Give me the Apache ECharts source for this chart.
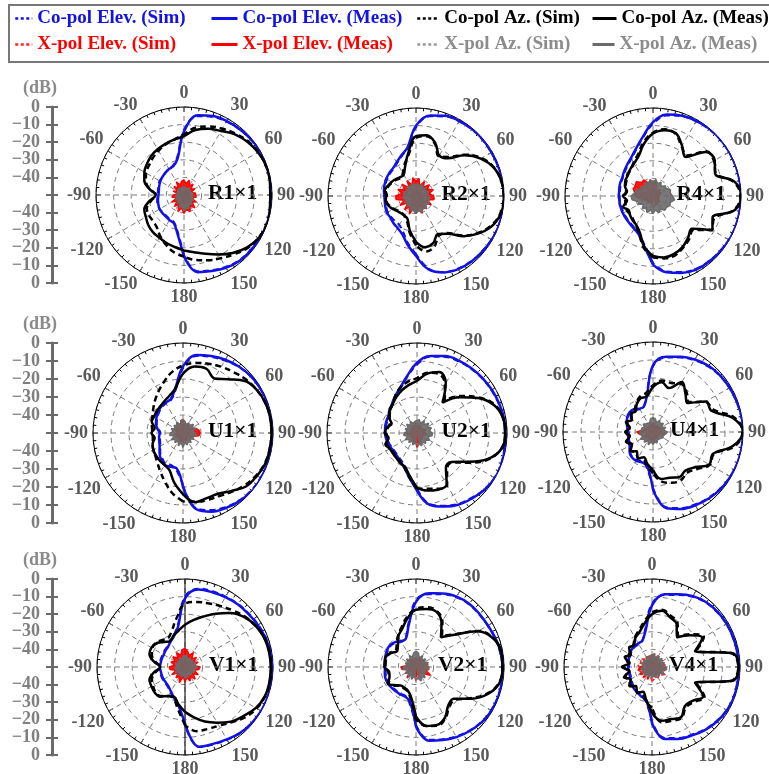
<!DOCTYPE html>
<html><head><meta charset="utf-8">
<script src="https://cdn.jsdelivr.net/npm/echarts/dist/echarts.min.js"></script>
<style>html,body{margin:0;padding:0;background:#fff}#c{width:769px;height:774px}</style>
</head><body><div id="c"></div>
<script>
// ---------- DATA ----------
const angles = [-180,-170,-160,-150,-140,-130,-120,-110,-100, -90,-80,-70,-60,-50,-40,-30,-20,-10, 0, 10,20,30,40,50,60,70,80,90, 100,110,120,130,140,150,160,170,180];
const dbTickLabels = ['0','−10','−20','−30','−40','','−40','−30','−20','−10','0'];
const seriesNames = ['Co-pol Elev. (Sim)','Co-pol Elev. (Meas)','Co-pol Az. (Sim)','Co-pol Az. (Meas)','X-pol Elev. (Sim)','X-pol Elev. (Meas)','X-pol Az. (Sim)','X-pol Az. (Meas)'];
const plotNames = ['R1×1','R2×1','R4×1','U1×1','U2×1','U4×1','V1×1','V2×1','V4×1'];

// R1
const R1_coElevSim  = [-16,-29,-33.5,-34,-34.5,-34.5,-34,-34,-34.5, -35,-35,-34.5,-34,-34,-33.5,-33,-32,-28, -13, -4.5,-2.8,-1.8,-1.2,-0.6,-0.2,0,0,0, 0,0,-0.5,-1,-1.5,-2.8,-4.5,-6,-16];
const R1_coElevMeas = [-15,-28,-33,-33.5,-34,-34,-34,-34.5,-35, -35.5,-35.5,-35,-34.5,-34,-33.5,-33,-32.5,-29, -14, -4,-2.3,-1.5,-1,-0.5,0,0,0,0, 0,0,-0.3,-0.7,-1.1,-2.3,-4,-5.5,-15];
const R1_coAzSim    = [-15,-17,-20,-23,-26,-27,-27,-27.5,-31, -34,-30,-27,-25,-24,-22.5,-21,-19.5,-18, -15.5, -11,-8.5,-6.5,-4.5,-2.5,-1.2,-0.5,-0.5,-0.8, -0.5,-0.3,-1.2,-3,-6,-8.5,-10.5,-12.5,-15];
const R1_coAzMeas   = [-18.5,-20,-21,-22,-22.5,-23.5,-25,-26,-30, -34,-30,-26,-24,-22.5,-21,-20,-19,-18, -16.5, -12.5,-10,-8,-5,-3,-1.5,-0.5,-0.5,-1, -0.5,0,-1,-3.5,-7,-11,-14.5,-17,-18.5];
const R1_xElevSim   = [-44,-45,-44.5,-46,-45.5,-46.5,-46,-46.5,-46, -47,-46.5,-47,-46,-46.5,-45.5,-46,-45,-45.5, -45, -45.5,-45,-46,-45.5,-46.5,-46,-47,-46.5,-47, -46.5,-46,-45.5,-45,-45.5,-44.5,-45,-44,-44];
const R1_xElevMeas  = [-39.5,-42.5,-40,-44,-41.5,-45,-42,-46,-43, -44,-46.5,-43.5,-46,-42.5,-45,-41.5,-44,-42, -41.5, -43.5,-41,-44,-42,-45,-43,-46,-43.5,-44.5, -43,-45.5,-42,-44,-40.5,-43,-40,-42,-39.5];
const R1_xAzSim     = [-43,-44.5,-45,-46,-46.5,-47,-46.5,-47,-46.5, -46,-46.5,-47,-46.5,-47,-47.5,-47,-46.5,-46, -46.5, -46,-45.5,-46.5,-46,-45.5,-46,-45.5,-46.5,-46, -45.5,-46,-45.5,-45,-44.5,-44,-44,-43.5,-43];
const R1_xAzMeas    = [-41,-43.5,-42.5,-45,-44,-46,-44.5,-46,-45, -45.5,-46,-45,-46.5,-45.5,-46,-45.5,-46.5,-45.5, -45, -45.5,-44.5,-46,-45,-46,-45.5,-46,-45,-46, -45,-45.5,-44,-45,-43,-44,-42,-42.5,-41];
// R2
const R2_coElevSim  = [-17,-23,-28.5,-31,-31.5,-31.5,-31.5,-32,-32.5, -32.5,-32,-31.5,-31,-30.5,-30,-28.5,-26,-22.5, -11, -4,-2,-1,-0.6,-0.5,-0.6,-0.4,-0.2,0, 0,-0.2,-0.5,-1,-1.5,-2.3,-4,-8,-17];
const R2_coElevMeas = [-16,-22,-27,-29,-30,-31,-31,-31.5,-32, -32,-31.5,-31,-30.5,-30,-29.5,-28,-25.5,-22, -10, -3.5,-1.5,-0.8,-0.4,-0.3,-0.5,-0.3,0,0, 0,0,-0.3,-0.8,-1.2,-2,-3.8,-7.5,-16];
const R2_coAzSim    = [-22,-29,-35,-37,-37.5,-37,-35.5,-34,-33, -33.5,-32.5,-33.5,-34.5,-35.5,-36.5,-35,-31,-26, -17, -15.5,-18.5,-24,-21,-13.5,-7,-2.8,-0.8,-0.2, -0.8,-3.5,-8.5,-15,-22.5,-24,-19.5,-18,-22];
const R2_coAzMeas   = [-24,-30,-36,-37,-37,-36.5,-35,-33.5,-32.5, -33,-32,-33,-34,-35,-36,-36,-32,-25, -16, -15,-18,-23.5,-22,-14,-7.5,-3,-0.8,0, -0.5,-3,-8,-14.5,-22,-25,-21.5,-20.5,-24];
const R2_xElevSim   = [-43,-44.5,-43,-45,-44,-45.5,-43.5,-44.5,-43, -42.5,-44,-43,-44.5,-43.5,-45,-44,-45,-43.5, -44.5, -43.5,-45,-44,-45,-43.5,-44.5,-43,-44,-43.5, -43,-44.5,-43.5,-45,-44,-45,-43,-44.5,-43];
const R2_xElevMeas  = [-40,-43.5,-39,-43,-40,-44,-39.5,-43,-38.5, -38.5,-42,-39,-43,-39.5,-44,-40,-43.5,-39.5, -41.5, -40,-44,-40.5,-43.5,-40,-43,-39.5,-42.5,-40, -39.5,-43,-40,-44,-40.5,-43.5,-39.5,-43,-40];
const R2_xAzSim     = [-42.5,-43.5,-44,-44.5,-45,-45.5,-44.5,-45.5,-44.5, -45,-45.5,-45,-46,-45.5,-45,-45.5,-44.5,-45, -44.5, -45,-45.5,-44.5,-45.5,-45,-45.5,-44.5,-45,-44.5, -44,-44.5,-43.5,-44,-43,-43.5,-42.5,-43,-42.5];
const R2_xAzMeas    = [-40,-41.5,-41.5,-43,-42.5,-44,-42.5,-44,-42.5, -43,-44,-43,-44.5,-43.5,-43,-44,-42.5,-43.5, -42.5, -43,-44,-42.5,-44,-43,-44,-42.5,-43.5,-42.5, -42,-43,-41.5,-42.5,-41,-42,-40.5,-41.5,-40];
// R4
const R4_coElevSim  = [-12,-22,-27,-29,-30,-30.5,-30.8,-31,-31, -31,-31,-30.5,-30,-29,-27.5,-25.5,-22,-16.5, -9, -3.5,-1.8,-1,-0.5,-0.2,0,0,0,0, 0,0,-0.3,-0.8,-1.3,-2,-4,-6.5,-12];
const R4_coElevMeas = [-11,-21,-26.5,-28.5,-29.5,-30,-30.3,-30.5,-30.7, -30.7,-30.5,-30,-29.7,-28.5,-27,-25,-21.5,-16, -8, -3,-1.5,-0.7,-0.2,0,0,0,0,0, 0,0,0,-0.5,-1,-1.5,-3.5,-6,-11];
const R4_coAzSim    = [-15,-20,-27,-30.5,-32.5,-33.5,-33,-33.5,-34, -34,-34.5,-33.5,-32.5,-31,-30.5,-28,-25,-19, -14, -11.5,-12.5,-17.5,-20,-10.5,-10,-12,-3.5,-0.3, -3.5,-13,-11.5,-20,-18,-16,-14,-14,-15];
const R4_coAzMeas   = [-16,-21,-28,-31,-32,-33,-34,-32,-35, -33,-35,-33,-32,-31.5,-30,-28.5,-26,-20, -14.5, -12,-12,-17,-21,-11,-9.5,-12.5,-3,0, -3,-14,-11,-21,-19,-16.5,-15,-14.5,-16];
const R4_xElevSim   = [-46,-46.5,-46,-47,-46.5,-47,-46.5,-46,-45, -44,-43,-42.5,-42,-43,-43.5,-44,-45,-45.5, -45, -44.5,-45.5,-46,-46.5,-46,-47,-46.5,-47,-46.5, -47,-46.5,-47,-46.5,-47,-46,-46.5,-46,-46];
const R4_xElevMeas  = [-44,-45.5,-44.5,-46,-45,-46.5,-45,-44,-42, -40,-39.5,-38,-38.5,-37.5,-40,-39.5,-42,-41.5, -43, -41,-44,-44,-46,-44.5,-46,-45,-46.5,-45.5, -46.5,-45.5,-46.5,-45,-46,-44.5,-45.5,-44,-44];
const R4_xAzSim     = [-43,-44,-43.5,-44.5,-44,-45,-44,-43,-42, -41.5,-42,-43,-44,-44.5,-45,-44.5,-44.5,-44, -44.5, -44,-45,-44.5,-45,-44.5,-43.5,-43,-42,-42.5, -41.5,-42,-42.5,-42,-43,-43.5,-43.5,-44,-43];
const R4_xAzMeas    = [-40,-42,-40,-42.5,-40.5,-43,-40.5,-41,-38, -37.5,-39.5,-40,-42,-41.5,-43,-41,-42.5,-40.5, -42, -40.5,-42.5,-41,-43,-41,-41.5,-39.5,-40,-39, -37.5,-39.5,-39,-40,-39.5,-41.5,-40,-42,-40];
// U1
const U1_coElevSim  = [-21,-29,-31,-30.5,-32,-33.5,-35.5,-36.5,-37, -37.5,-36,-34.5,-33.5,-32.5,-31.5,-31,-30.5,-26, -14, -6.5,-5,-3.5,-2,-1,-0.5,-0.3,-0.2,0, 0,0,-0.2,-0.5,-1.2,-2.5,-4.5,-7.5,-21];
const U1_coElevMeas = [-20,-30,-30,-29.5,-31,-33,-35,-36,-36.5, -37,-35.5,-34,-33,-32,-31,-30.5,-30,-25, -13, -6,-4.5,-3,-1.8,-0.8,-0.4,-0.2,0,0, 0,0,0,0,-0.8,-2,-3.5,-7,-20];
const U1_coAzSim    = [-12,-16,-21,-25,-28,-30,-31,-32,-33, -33,-32.5,-31.5,-30.5,-28.5,-26,-23,-19.5,-15.5, -12.5, -10.5,-9,-7.5,-6,-4,-2.5,-1.3,-0.8,-0.8, -1,-1.5,-3,-5,-7.5,-9.5,-10.5,-11.2,-12];
const U1_coAzMeas   = [-16,-22,-28,-29.5,-30,-30.5,-31,-32,-34, -32.5,-34,-31.5,-31.5,-31,-30.5,-29.5,-28,-25, -17, -12.5,-12,-15,-11,-5,-2.5,-1.3,-0.8,-0.8, -1,-1.2,-2.5,-4,-8,-11,-11.5,-11,-16];
const U1_xElevSim   = [-46,-46.5,-46,-47,-46.5,-47,-46.5,-46,-46.5, -46,-46.5,-46,-47,-46,-46.5,-46,-45.5,-45, -45, -45,-45.5,-46,-46,-45.5,-45,-44.5,-43.5,-43, -43.5,-45,-46,-46.5,-46.5,-46,-46.5,-46,-46];
const U1_xElevMeas  = [-44,-46.5,-44.5,-47,-45,-47,-45.5,-46.5,-45, -44,-46.5,-44.5,-47,-44.5,-46.5,-44,-46,-43, -42.5, -44,-45.5,-44,-46,-44,-45.5,-42.5,-41,-40.5, -41,-44.5,-44,-46,-45,-46.5,-45,-46.5,-44];
const U1_xAzSim     = [-44,-45,-44.5,-46,-45,-45.5,-44.5,-45.5,-44.5, -45,-44,-45,-44.5,-45.5,-45,-46,-45,-45.5, -44.5, -45,-44.5,-45.5,-45,-44.5,-45,-44.5,-45.5,-45, -44.5,-45.5,-45,-46,-45,-44.5,-45,-44,-44];
const U1_xAzMeas    = [-42,-44.5,-42.5,-45,-43,-44.5,-42.5,-45,-42.5, -43,-44.5,-43,-45,-43.5,-44.5,-43,-45,-43.5, -42.5, -43.5,-45,-43.5,-44.5,-42.5,-44,-42.5,-44.5,-43, -42.5,-44.5,-43,-45,-43,-44.5,-43,-44.5,-42];
// U2
const U2_coElevSim  = [-19,-26,-30.5,-32.5,-33.5,-34,-34,-33.5,-33, -32.8,-32.5,-32.3,-32,-31,-29,-26.5,-23.5,-18.5, -12, -7,-5,-4,-3.3,-2.8,-2.3,-1.8,-1.3,-1.2, -0.8,-0.3,-0.3,-1.3,-3,-4.5,-7,-10,-19];
const U2_coElevMeas = [-18,-25,-29.5,-31.5,-33,-33.5,-33.5,-33,-32.5, -32.3,-32,-31.8,-31.5,-30.5,-28.5,-26,-23,-18, -11, -6.5,-4.5,-3.5,-3,-2.5,-2,-1.5,-1,-1, -0.5,0,0,-1,-2.5,-4,-6.5,-9.5,-18];
const U2_coAzSim    = [-19,-25,-29.5,-31.5,-32.5,-33,-33,-32,-33.5, -33,-33.5,-34,-32.5,-30.5,-29,-26,-23,-21, -19.5, -16,-15,-19,-26,-18,-10.5,-4,-1.5,-1, -2.2,-7.5,-17,-24.5,-24,-16.5,-17,-18.5,-19];
const U2_coAzMeas   = [-19.5,-26,-30,-31,-32,-32.5,-32.5,-31.3,-34, -32,-33,-35,-32,-30,-29,-27,-25,-23, -21, -16.5,-14,-18,-28,-19,-11,-4.5,-1.5,-1, -2,-8,-18,-25,-25,-17,-16.5,-17.5,-19.5];
const U2_xElevSim   = [-45,-46,-46.5,-47,-46.5,-47.5,-47,-47.5,-46.5, -46,-47,-46.5,-47.5,-47,-47.5,-46.5,-47,-46, -46, -46.5,-47,-47.5,-47,-47.5,-46.5,-46,-46.5,-47, -46.5,-47.5,-47,-46.5,-47,-46,-45.5,-45,-45];
const U2_xElevMeas  = [-42,-45.5,-44,-46.5,-45,-47,-45.5,-47,-45, -43.5,-46,-45,-47,-45.5,-47,-45,-46.5,-44, -43, -45,-46.5,-45,-47,-46,-46.5,-44.5,-46,-45.5, -44,-46.5,-45.5,-46,-45.5,-45,-43,-44,-42];
const U2_xAzSim     = [-44,-45,-44,-45.5,-44.5,-45,-44,-45,-44, -44.5,-45.5,-44.5,-45,-44,-45,-44.5,-45.5,-45, -44.5, -44,-45,-44,-44.5,-43.5,-44,-43,-43.5,-43.5, -43,-44,-43.5,-45,-44,-45,-44,-44.5,-44];
const U2_xAzMeas    = [-43,-44.5,-43,-45,-43,-44.5,-42.5,-44.5,-42.5, -43,-44.5,-43,-44.5,-42.5,-44.5,-42.5,-44.5,-43.5, -43, -42.5,-44.5,-42,-44,-41.5,-43.5,-41.5,-43,-41.5, -41.5,-43.5,-42,-44,-42.5,-44,-42.5,-44,-43];
// U4
const U4_coElevSim  = [-19,-30,-32.5,-32,-32,-33.5,-35.5,-36,-36.5, -36.5,-36,-35,-34,-33.5,-34,-35.5,-35,-29, -13.5, -8,-6,-4,-2.5,-1.5,-1,-0.7,-0.3,0, 0,0,-0.5,-1.2,-2.2,-3.5,-5,-7.5,-19];
const U4_coElevMeas = [-18,-31,-32,-31.5,-31.7,-33,-35,-35.8,-36, -36,-35.5,-34.5,-33.5,-33,-33.5,-35,-35,-30, -13, -7.5,-5.5,-3.5,-2,-1.2,-0.8,-0.5,0,0, 0,0,-0.3,-0.8,-1.8,-3,-4.5,-7,-18];
const U4_coAzSim    = [-27,-31,-34,-33.5,-35,-34,-35.5,-34.5,-36, -35,-36,-34.5,-36,-34.5,-34,-31.5,-29,-28, -24, -21,-21,-19,-21,-24,-16.5,-14,-4,-0.3, -4,-14,-13.5,-18,-20.5,-19,-20,-22,-27];
const U4_coAzMeas   = [-29,-32,-35,-33,-36,-33.5,-36.5,-34,-37, -34.5,-37,-34,-36.5,-34,-35,-32,-30,-30, -25, -22,-24,-18,-22,-25,-16,-15.5,-5,0, -5,-14.5,-14,-19.5,-22,-21,-23,-23.5,-29];
const U4_xElevSim   = [-46,-46.5,-46,-47,-46.5,-47,-46,-45.5,-45, -44,-45,-46,-46.5,-47,-46.5,-47,-47,-46.5, -47, -46.5,-47,-47,-47.5,-46.5,-47,-46.5,-46,-45.5, -45,-46,-46.5,-47,-47,-46.5,-47,-46.5,-46];
const U4_xElevMeas  = [-44,-46.5,-44.5,-47,-44.5,-46.5,-44,-45,-42.5, -41,-44,-44.5,-46.5,-45.5,-47,-46,-47,-45, -46, -45,-47,-45.5,-47,-45,-46.5,-44.5,-45.5,-43.5, -43,-45,-44.5,-46.5,-45.5,-47,-45.5,-46.5,-44];
const U4_xAzSim     = [-45,-45.5,-44.5,-45.5,-44.5,-45,-44,-45,-44.5, -45,-44,-45.5,-44.5,-45,-44.5,-45.5,-45,-44.5, -44, -44.5,-45.5,-44.5,-45,-44.5,-45.5,-44.5,-45,-44, -45,-44.5,-45.5,-45,-46,-45,-45.5,-45,-45];
const U4_xAzMeas    = [-43,-44.5,-42.5,-44.5,-42.5,-44,-42,-44,-42.5, -43,-44,-43.5,-44.5,-43,-44,-43.5,-44.5,-42.5, -42, -42.5,-44.5,-42.5,-44,-42.5,-44.5,-42.5,-44,-42, -43,-44,-43.5,-44.5,-44,-45,-43.5,-44.5,-43];
// V1
const V1_coElevSim  = [-17,-27,-31,-33.5,-35,-35.5,-35.5,-35.5,-35.5, -35.5,-35.5,-35.5,-35.5,-35,-34.5,-33,-31,-26, -10, -4.8,-4.2,-3.8,-3.2,-2.7,-2,-1.2,-0.6,-0.3, 0,0,0,-0.3,-1,-2.2,-3.2,-3.8,-17];
const V1_coElevMeas = [-18,-28,-31.5,-34,-35.5,-36,-36,-36,-36, -35.7,-36,-36,-36,-35.5,-35,-33.5,-31.5,-27, -11, -5.3,-4.8,-4.2,-3.5,-3,-2.2,-1.4,-0.8,-0.4, -0.2,0,0,-0.5,-1.2,-2.5,-3.5,-4,-18];
const V1_coAzSim    = [-17,-26,-31,-31,-28.5,-28,-29,-30,-33, -36,-33,-30,-28.5,-28.5,-30,-31,-28,-22, -14, -12.5,-11.5,-10,-8,-5.5,-3.5,-2,-1.2,-1, -1,-1.5,-3,-5.5,-9,-11.5,-12.5,-13,-17];
const V1_coAzMeas   = [-24.5,-28.5,-32,-31,-28,-27.5,-28,-28.5,-32, -36,-32,-28.5,-28,-29,-31.5,-33,-31,-29, -26, -23,-19.5,-15,-10,-6,-3.5,-2,-1.5,-1.3, -1.3,-1.7,-3.5,-6.7,-9.5,-13.5,-17,-21,-24.5];
const V1_xElevSim   = [-45,-46,-44.5,-45.5,-45,-46.5,-45,-46,-45, -44.5,-45.5,-45,-44.5,-45,-44.5,-44,-44.5,-43.5, -43, -44,-43.5,-45,-44.5,-45.5,-45,-46,-45.5,-45, -46,-45,-46,-44.5,-45.5,-45,-46,-45,-45];
const V1_xElevMeas  = [-41.5,-44.5,-40.5,-44,-42,-45,-41.5,-44.5,-41.5, -41,-44,-41.5,-43.5,-41,-43.5,-40.5,-43,-40, -39.5, -41,-43,-40.5,-44,-41.5,-44.5,-42,-45,-41.5, -42,-44.5,-41.5,-44,-41,-44,-41.5,-44,-41.5];
const V1_xAzSim     = [-45,-46,-45.5,-46.5,-45.5,-46,-45,-46,-45.5, -45,-46,-45.5,-46.5,-46,-46.5,-45.5,-46,-45, -45.5, -45,-46,-45.5,-46.5,-45.5,-46,-45,-45.5,-44.5, -45,-44.5,-45.5,-45,-46,-45.5,-46,-45,-45];
const V1_xAzMeas    = [-43.5,-45.5,-44,-46,-44,-45.5,-43.5,-45.5,-44, -43.5,-45.5,-44,-46,-44.5,-46,-44,-45.5,-43.5, -44, -43.5,-45.5,-44,-46,-44,-45.5,-43.5,-45,-43, -43.5,-45,-44,-45.5,-44.5,-45.5,-44.5,-45.5,-43.5];
// V2
const V2_coElevSim  = [-17,-29,-32.5,-32.5,-32.5,-32.3,-32,-32,-32.5, -32.8,-32.5,-32,-31.5,-31.2,-32,-33.5,-32.5,-25, -12, -8,-6,-4.2,-3.4,-3.3,-3,-2.3,-1.5,-1, -0.7,-0.5,-0.8,-1.5,-2.8,-4.5,-6.3,-8,-17];
const V2_coElevMeas = [-16,-30,-32,-32,-32,-31.8,-31.5,-31.5,-32, -32.4,-32,-31.5,-31,-30.7,-31.5,-33,-33,-26, -13, -7.5,-5.5,-3.8,-3,-3,-2.8,-2,-1.2,-0.8, -0.5,-0.3,-0.5,-1.2,-2.5,-4,-5.8,-7.5,-16];
const V2_coAzSim    = [-20,-32,-35.5,-36,-36,-33.5,-32,-33.5,-34, -32.5,-32.5,-32.5,-33.5,-35,-33,-29.5,-26,-21, -17, -15.5,-16,-20,-27,-21,-9,-3,-1,-1, -1.8,-6.5,-14.5,-21,-20.5,-16.5,-14.5,-16,-20];
const V2_coAzMeas   = [-22,-33,-36,-36.5,-36.3,-34,-31.5,-34,-34.5, -32,-32,-32,-34,-36,-34,-30,-27,-22, -17.5, -16.5,-16.5,-21,-28,-21.5,-9.5,-3,-0.8,-0.8, -1.5,-6,-14,-22,-21.5,-17,-15,-16,-22];
const V2_xElevSim   = [-42,-45,-44,-46,-43,-45.5,-44,-46,-43, -42,-44.5,-45.5,-43.5,-46,-46.5,-45,-47,-45.5, -46, -45.5,-46.5,-44.5,-45.5,-44,-46,-44,-43,-44.5, -43,-42,-41.5,-44,-45,-46,-45,-46,-42];
const V2_xElevMeas  = [-44,-46.5,-43,-45.5,-42,-45,-43,-46,-42, -41.5,-45,-44,-46,-44.5,-46.5,-44,-47,-44.5, -46, -44.5,-46.5,-43.5,-45.5,-43,-46,-43,-44,-43.5, -42.5,-44,-40.5,-44,-44,-46.5,-44,-46.5,-44];
const V2_xAzSim     = [-45,-45.5,-44.5,-46,-45,-46,-45,-45.5,-44.5, -45,-46,-45.5,-46,-45,-45.5,-44.5,-43.5,-44, -43, -44,-45,-44.5,-45.5,-45,-45.5,-44.5,-45,-44.5, -45,-44.5,-45.5,-45,-44,-44.5,-43.5,-44,-45];
const V2_xAzMeas    = [-43,-45,-42.5,-45,-43,-45,-43,-45,-42.5, -43,-45,-43.5,-45.5,-43,-45,-42.5,-44,-42, -41, -42,-44.5,-42.5,-45,-43,-45,-42.5,-44.5,-42.5, -43,-44.5,-43.5,-44.5,-42,-44,-41.5,-43.5,-43];
// V4
const V4_coElevSim  = [-19,-30,-32.5,-33.5,-34.5,-35.5,-36.5,-37,-37, -37,-37,-36.5,-36,-35.3,-35,-35,-34,-28, -14, -8.5,-6.5,-4,-2.3,-1.6,-1.2,-1.1,-1,-1, -0.8,-0.6,-1,-2.2,-3.6,-5.5,-7,-9,-19];
const V4_coElevMeas = [-18,-31,-32.2,-33.3,-34,-35,-36,-36.5,-36.5, -36.5,-36.5,-36,-35.5,-34.8,-34.5,-34.5,-34,-29, -15, -8,-6,-3.5,-2,-1.3,-1,-0.9,-0.8,-0.8, -0.6,-0.4,-0.8,-1.8,-3.2,-5,-6.5,-8.5,-18];
const V4_coAzSim    = [-27,-30,-34,-33.5,-35,-34,-35,-34,-36, -34,-36,-34,-35,-34,-33.5,-30.5,-28,-24, -19, -17,-19,-21,-27,-21,-16,-23,-4.5,-1, -4.5,-23,-15.5,-19,-20,-16.5,-17.5,-18,-27];
const V4_coAzMeas   = [-24,-31,-35,-33,-36,-33,-36,-33,-37, -33,-37,-33.5,-36,-33,-34,-31,-29,-25, -20, -17.5,-20,-22,-28,-22,-17,-24,-4,-0.8, -4,-24,-16.5,-20,-21,-17,-18.5,-19,-24];
const V4_xElevSim   = [-42,-44.5,-42.5,-44.5,-42,-43.5,-41.5,-43,-41.5, -43,-41.5,-43.5,-42,-43,-44,-43,-44,-43, -43.5, -42.5,-42,-43.5,-42.5,-44,-43,-44,-42.5,-43, -42,-43,-41.5,-43,-44,-43,-44,-43,-42];
const V4_xElevMeas  = [-44,-46.5,-43,-46,-42.5,-45.5,-42,-45,-42, -43.5,-45,-44,-45.5,-43.5,-46,-43.5,-46,-43.5, -44, -43,-45,-44,-45.5,-44.5,-46,-44.5,-45.5,-43.5, -42.5,-45,-42,-45,-44.5,-46,-44.5,-46,-44];
const V4_xAzSim     = [-45,-46,-45.5,-46.5,-45.5,-46,-45,-45.5,-45, -45.5,-46,-45,-46,-45.5,-46,-45,-44.5,-45, -44, -44.5,-45,-44,-45,-44.5,-45.5,-44.5,-44,-43.5, -43,-44,-43.5,-44.5,-45,-44.5,-45.5,-45,-45];
const V4_xAzMeas    = [-43.5,-45.5,-44,-46,-43.5,-45.5,-43.5,-45,-43.5, -44,-45.5,-43.5,-45.5,-43.5,-45.5,-43.5,-44.5,-43.5, -42.5, -42.5,-44.5,-42.5,-44.5,-42.5,-44.5,-42.5,-44,-42, -41.5,-44,-42,-44.5,-43.5,-45,-43.5,-45,-43.5];

const plotData = [
  [R1_coElevSim,R1_coElevMeas,R1_coAzSim,R1_coAzMeas,R1_xElevSim,R1_xElevMeas,R1_xAzSim,R1_xAzMeas],
  [R2_coElevSim,R2_coElevMeas,R2_coAzSim,R2_coAzMeas,R2_xElevSim,R2_xElevMeas,R2_xAzSim,R2_xAzMeas],
  [R4_coElevSim,R4_coElevMeas,R4_coAzSim,R4_coAzMeas,R4_xElevSim,R4_xElevMeas,R4_xAzSim,R4_xAzMeas],
  [U1_coElevSim,U1_coElevMeas,U1_coAzSim,U1_coAzMeas,U1_xElevSim,U1_xElevMeas,U1_xAzSim,U1_xAzMeas],
  [U2_coElevSim,U2_coElevMeas,U2_coAzSim,U2_coAzMeas,U2_xElevSim,U2_xElevMeas,U2_xAzSim,U2_xAzMeas],
  [U4_coElevSim,U4_coElevMeas,U4_coAzSim,U4_coAzMeas,U4_xElevSim,U4_xElevMeas,U4_xAzSim,U4_xAzMeas],
  [V1_coElevSim,V1_coElevMeas,V1_coAzSim,V1_coAzMeas,V1_xElevSim,V1_xElevMeas,V1_xAzSim,V1_xAzMeas],
  [V2_coElevSim,V2_coElevMeas,V2_coAzSim,V2_coAzMeas,V2_xElevSim,V2_xElevMeas,V2_xAzSim,V2_xAzMeas],
  [V4_coElevSim,V4_coElevMeas,V4_coAzSim,V4_coAzMeas,V4_xElevSim,V4_xElevMeas,V4_xAzSim,V4_xAzMeas]
];

// ---------- LAYOUT / STYLE ----------
const FONT = '"Liberation Serif","Times New Roman",serif';
const centers = [[184,195],[416,196],[653,196],[183,433],[417,433],[653,432],[185,667],[416,667],[652,667]];
const radii = [88,88,88,90,90,90,88,88,88];
const labelOffsets = [24,25.5,23.5,25,24.5,17,24,22,17];
const BLUE = '#1212e6', RED = '#ff0000';
const kindStyle = [
  {color:BLUE, width:2, type:[6,4], smooth:0.4},
  {color:BLUE, width:2.5, type:'solid', smooth:0.4},
  {color:'#000', width:2.5, type:[6,4], smooth:0.4},
  {color:'#000', width:2.5, type:'solid', smooth:0.4},
  {color:'#ff2020', width:1.5, type:[4,3], smooth:false},
  {color:RED, width:1.5, type:'solid', smooth:false, fill:true},
  {color:'#9a9a9a', width:1.5, type:[4,3], smooth:false},
  {color:'#6a6a6a', width:1.5, type:'solid', smooth:false, fill:true}
];
const legendTextColors = [BLUE,BLUE,'#000','#000',RED,RED,'#8c8c8c','#8c8c8c'];
const legendPos = [[14,9,17],[210,9,26],[416,9,22],[591,9,24],[14,35,17],[210,35,26],[416,35,22],[591,35,22]];

const chart = echarts.init(document.getElementById('c'), null, {renderer:'canvas'});
const polar = [], angleAxis = [], radiusAxis = [], series = [], graphic = [];

centers.forEach((c,i)=>{
  polar.push({center:c, radius:radii[i]});
  angleAxis.push({
    polarIndex:i, type:'value', min:-180, max:180, interval:30, startAngle:270, clockwise:true,
    axisLine:{show:true, lineStyle:{color:'#000', width:1}},
    axisTick:{show:true, inside:true, length:5, lineStyle:{color:'#000', width:1}},
    minorTick:{show:true, splitNumber:6, length:3, lineStyle:{color:'#000', width:1}},
    splitLine:{show:true, lineStyle:{color:'#7a7a7a', width:1, type:[5,4]}},
    axisLabel:{show:true, margin:5, color:'#595959', fontFamily:FONT, fontWeight:'bold', fontSize:18,
      formatter:v=> v===-180 ? '180' : String(v)}
  });
  radiusAxis.push({
    polarIndex:i, type:'value', min:-50, max:0, interval:10,
    axisLine:{show:false}, axisTick:{show:false}, axisLabel:{show:false},
    splitLine:{show:true, lineStyle:{color:'#7a7a7a', width:1, type:[5,4]}}
  });
  graphic.push({type:'text', left:c[0]+labelOffsets[i], top:c[1]-13,
    style:{text:plotNames[i], font:'bold 21.5px '+FONT, fill:'#000'}});
});

// solid 0/180 line in V1 panel
series.push({type:'line', coordinateSystem:'polar', polarIndex:6, data:[[0,0],[-50,0],[0,180]],
  symbol:'none', silent:true, lineStyle:{color:'#222', width:1.2}, z:1});

plotData.forEach((arrs,p)=>{
  arrs.forEach((arr,k)=>{
    const st = kindStyle[k];
    const s = {
      type:'line', coordinateSystem:'polar', polarIndex:p, name:seriesNames[k],
      data: arr.map((v,j)=>[v, angles[j]]),
      symbol:'none', showSymbol:false, smooth:st.smooth, silent:true, clip:true,
      lineStyle:{color:st.color, width:st.width, type:st.type},
      itemStyle:{color:st.color}, z:2+k
    };
    if (st.fill) s.areaStyle = {origin:'start', color:st.color, opacity:0.9};
    series.push(s);
  });
});

// left dB axes (line + ticks from ECharts axes, labels from dbTickLabels)
const rowTops = [[107,176],[343,180],[579,176]];
const grid=[], xAxis=[], yAxis=[];
rowTops.forEach((r,g)=>{
  grid.push({left:52, top:r[0], width:2, height:r[1]});
  xAxis.push({gridIndex:g, type:'value', show:false, min:0, max:1});
  yAxis.push({gridIndex:g, type:'value', min:-50, max:50, interval:10, position:'left',
    axisLine:{show:true, lineStyle:{color:'#6a6a6a', width:3}},
    axisTick:{show:true, length:6, lineStyle:{color:'#6a6a6a', width:2}},
    axisLabel:{show:false}, splitLine:{show:false}});
  yAxis.push({gridIndex:g, type:'value', min:-50, max:50, interval:10, position:'left',
    axisLine:{show:false}, axisLabel:{show:false}, splitLine:{show:false},
    axisTick:{show:true, inside:true, length:6, lineStyle:{color:'#6a6a6a', width:2}}});
  dbTickLabels.forEach((t,i)=>{
    if (!t) return;
    graphic.push({type:'text', x:40, y:r[0] + i*r[1]/10,
      style:{text:t, font:'bold 18px '+FONT, fill:'#7f7f7f', textAlign:'right', textVerticalAlign:'middle'}});
  });
  graphic.push({type:'text', left:23, top:r[0]-28, style:{text:'(dB)', font:'bold 18px '+FONT, fill:'#8a8a8a'}});
});

// legend frame
graphic.push({type:'rect', shape:{x:9,y:5,width:790,height:57}, style:{fill:'none', stroke:'#777', lineWidth:2}, z:-1});

const legend = legendPos.map((lp,k)=>({
  left:lp[0], top:lp[1], itemWidth:lp[2], itemHeight:12, padding:0, selectedMode:false,
  itemStyle:{opacity:0},
  data:[{name:seriesNames[k], textStyle:{color:legendTextColors[k]},
         lineStyle: (k%2===0) ? {type:[3,2.5], width:2.5} : {width:3}}],
  textStyle:{fontFamily:FONT, fontWeight:'bold', fontSize:19}
}));

chart.setOption({
  animation:false, backgroundColor:'#fff',
  legend, polar, angleAxis, radiusAxis, grid, xAxis, yAxis, series, graphic
});
</script></body></html>
